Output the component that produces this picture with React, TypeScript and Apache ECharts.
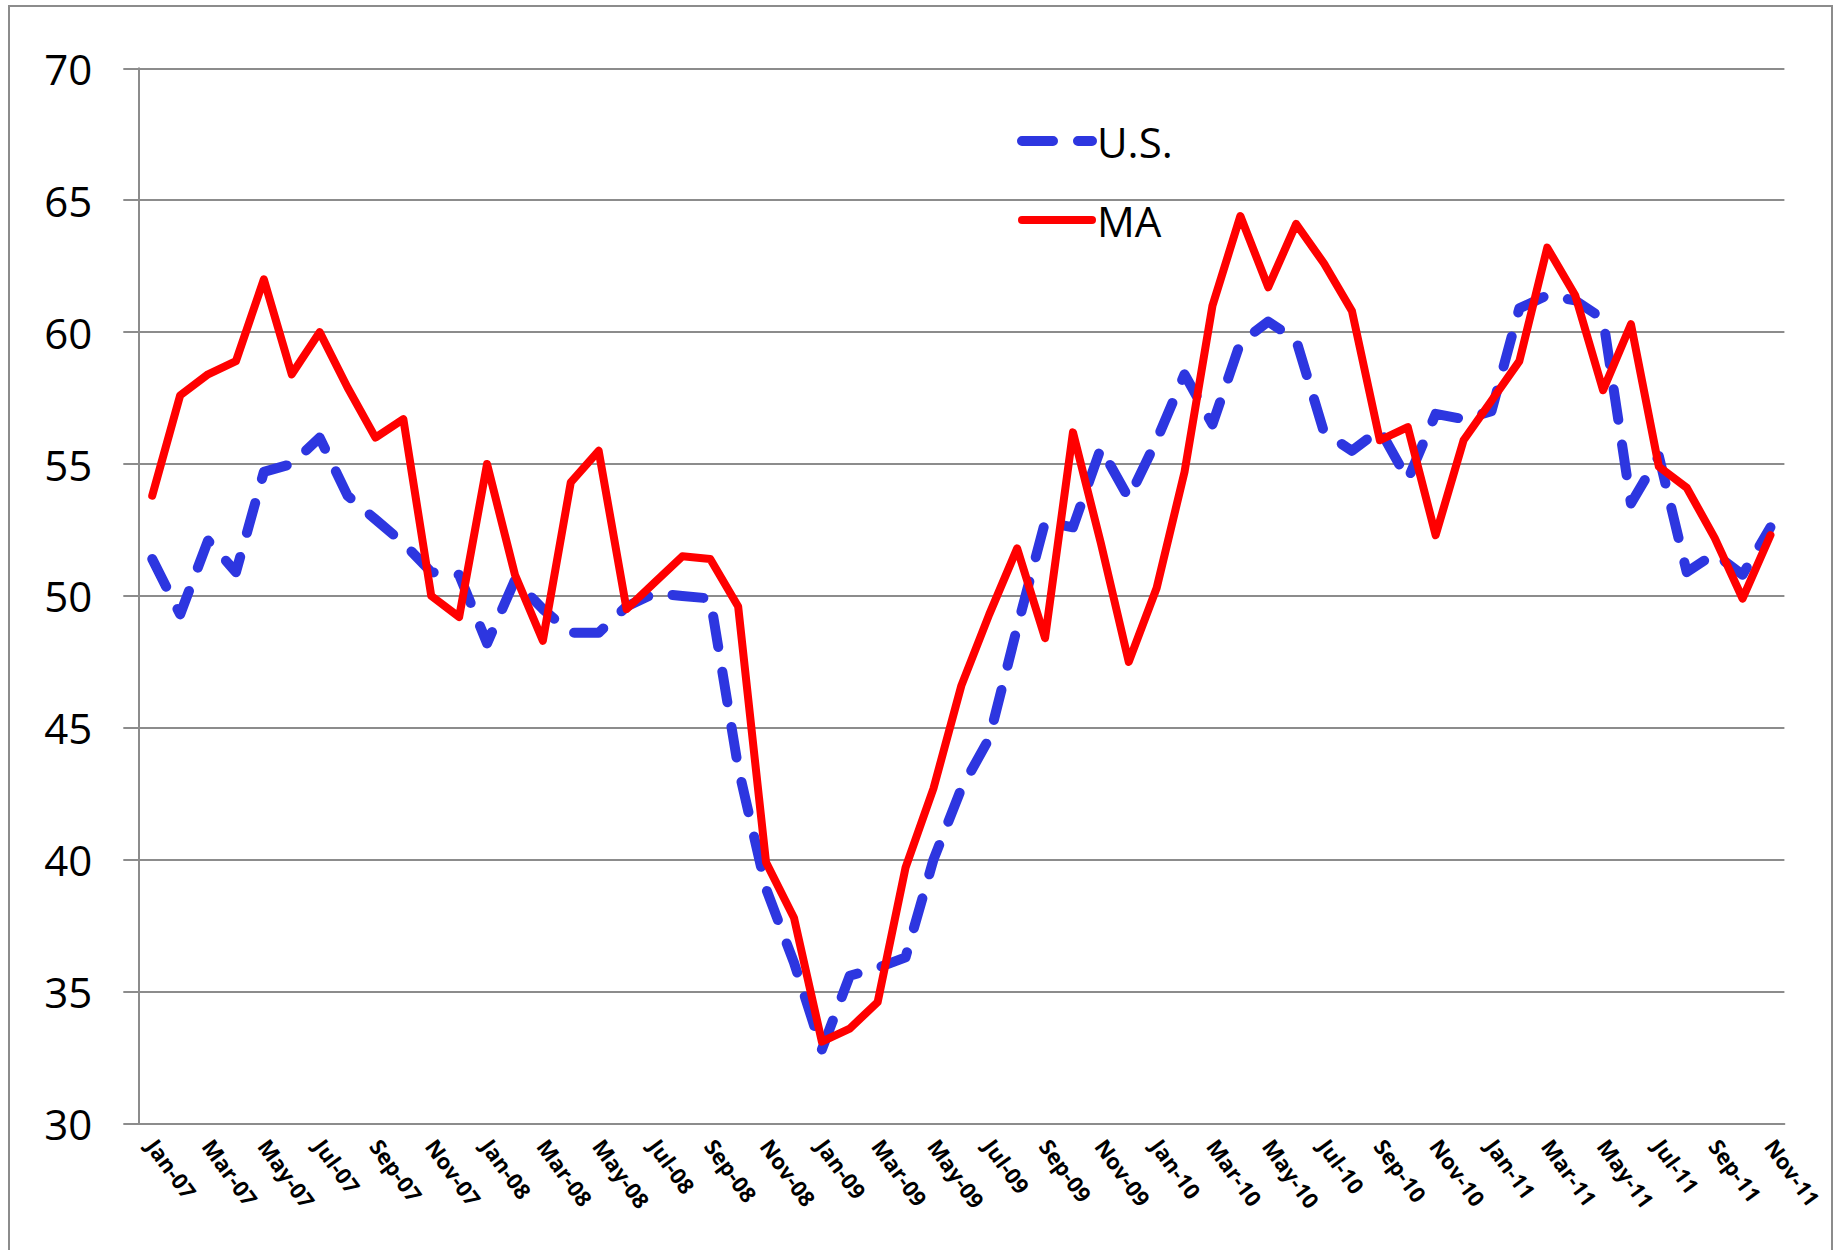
import React, { useEffect, useRef } from "react";
import * as echarts from "echarts";

const categories = [
  "Jan-07", "Feb-07", "Mar-07", "Apr-07", "May-07", "Jun-07", "Jul-07", "Aug-07", "Sep-07", "Oct-07", "Nov-07", "Dec-07",
  "Jan-08", "Feb-08", "Mar-08", "Apr-08", "May-08", "Jun-08", "Jul-08", "Aug-08", "Sep-08", "Oct-08", "Nov-08", "Dec-08",
  "Jan-09", "Feb-09", "Mar-09", "Apr-09", "May-09", "Jun-09", "Jul-09", "Aug-09", "Sep-09", "Oct-09", "Nov-09", "Dec-09",
  "Jan-10", "Feb-10", "Mar-10", "Apr-10", "May-10", "Jun-10", "Jul-10", "Aug-10", "Sep-10", "Oct-10", "Nov-10", "Dec-10",
  "Jan-11", "Feb-11", "Mar-11", "Apr-11", "May-11", "Jun-11", "Jul-11", "Aug-11", "Sep-11", "Oct-11", "Nov-11",
];

const usValues = [
  51.4, 49.3, 52.1, 50.9, 54.7, 55.0, 56.0, 53.8, 52.9, 52.0, 50.9, 50.8,
  48.2, 50.6, 49.5, 48.6, 48.6, 49.6, 50.1, 50.0, 49.9, 43.5, 38.9, 36.1,
  32.8, 35.6, 35.9, 36.3, 40.0, 42.7, 44.6, 48.8, 52.8, 52.6, 55.6, 53.7,
  55.9, 58.4, 56.5, 59.6, 60.4, 59.7, 56.2, 55.5, 56.3, 54.4, 56.9, 56.7,
  57.0, 60.9, 61.4, 61.2, 60.5, 53.5, 55.3, 50.9, 51.6, 50.8, 52.6,
];

const maValues = [
  53.8, 57.6, 58.4, 58.9, 62.0, 58.4, 60.0, 57.9, 56.0, 56.7, 50.0, 49.2,
  55.0, 50.8, 48.3, 54.3, 55.5, 49.5, 50.5, 51.5, 51.4, 49.6, 39.9, 37.8,
  33.1, 33.6, 34.6, 39.7, 42.7, 46.6, 49.3, 51.8, 48.4, 56.2, 52.0, 47.5,
  50.3, 54.7, 61.0, 64.4, 61.7, 64.1, 62.6, 60.8, 55.9, 56.4, 52.3, 55.9,
  57.4, 58.9, 63.2, 61.4, 57.8, 60.3, 54.9, 54.1, 52.2, 49.9, 52.3,
];

const seriesNames = ["U.S.", "MA"];

const GRAY = "#8c8c8c";
const FONT = "Open Sans";
const BLUE = "#2d36e0";
const RED = "#ff0000";

export default function App() {
  const ref = useRef<HTMLDivElement>(null);

  useEffect(() => {
    document.body.style.margin = "0";
    if (!ref.current) return;
    const chart = echarts.init(ref.current, null, { renderer: "svg" });
    chart.setOption({
      animation: false,
      backgroundColor: "#ffffff",
      textStyle: { fontFamily: FONT },
      grid: { left: 138.3, top: 68.3, right: 52.6, bottom: 126.5 },
      legend: {
        orient: "vertical",
        left: 1012,
        top: 115,
        itemWidth: 70,
        itemHeight: 12,
        itemGap: 37,
        data: seriesNames,
        itemStyle: { opacity: 0 },
        lineStyle: { width: "inherit" },
        textStyle: { fontSize: 42, color: "#000", fontFamily: FONT, lineHeight: 42 },
      },
      xAxis: {
        type: "category",
        data: categories,
        boundaryGap: true,
        axisLine: { lineStyle: { color: GRAY, width: 2 } },
        axisTick: { interval: 1, length: 7, lineStyle: { color: GRAY, width: 2 } },
        axisLabel: {
          interval: 1,
          rotate: -54,
          margin: 18,
          fontSize: 22,
          fontWeight: "bold",
          color: "#000",
          fontFamily: FONT,
        },
      },
      yAxis: {
        type: "value",
        min: 30,
        max: 70,
        interval: 5,
        axisLine: { show: true, lineStyle: { color: GRAY, width: 2 } },
        axisTick: { show: true, length: 15, lineStyle: { color: GRAY, width: 2 } },
        axisLabel: { margin: 46, fontSize: 42, color: "#000", fontFamily: FONT },
        splitLine: { lineStyle: { color: GRAY, width: 2 } },
      },
      series: [
        {
          name: seriesNames[0],
          type: "line",
          data: usValues,
          symbol: "none",
          itemStyle: { color: BLUE },
          lineStyle: { color: BLUE, width: 10, type: [31, 25], cap: "round", join: "round" },
        },
        {
          name: seriesNames[1],
          type: "line",
          data: maValues,
          symbol: "none",
          itemStyle: { color: RED },
          lineStyle: { color: RED, width: 8, cap: "round", join: "round" },
        },
      ],
      graphic: [
        {
          type: "rect",
          z: -1,
          shape: { x: 9, y: 6, width: 1823, height: 1300 },
          style: { fill: "none", stroke: GRAY, lineWidth: 2 },
        },
      ],
    });
    return () => chart.dispose();
  }, []);

  return <div ref={ref} style={{ width: 1837, height: 1250 }} />;
}
